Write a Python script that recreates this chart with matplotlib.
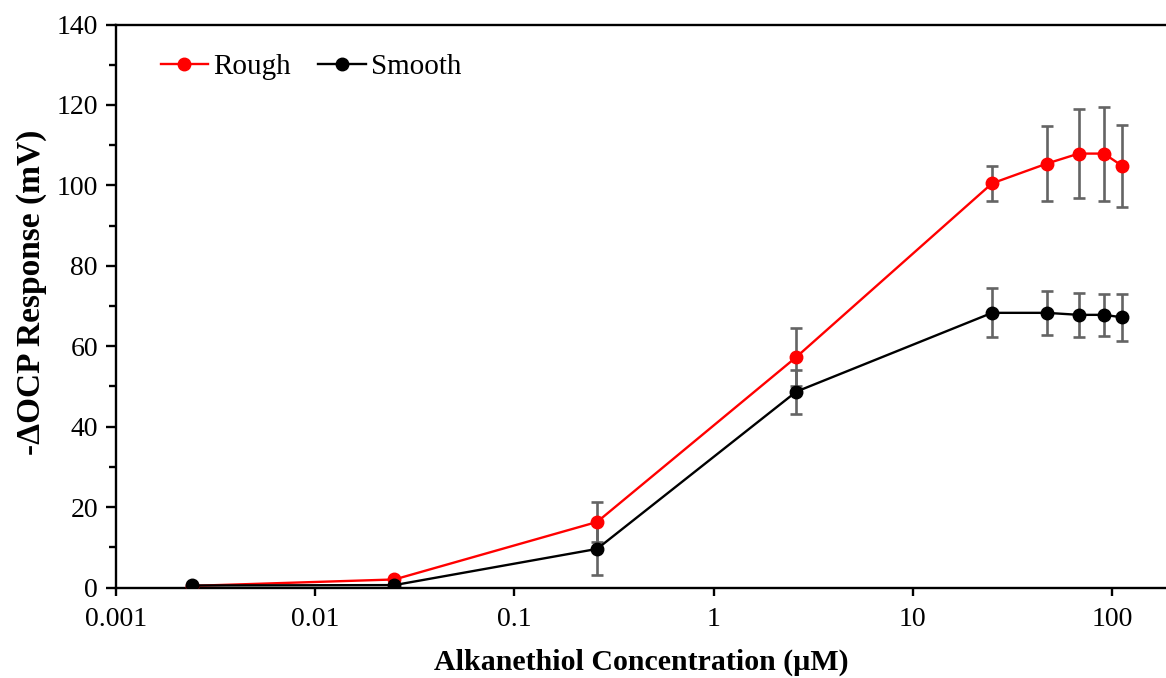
import matplotlib
matplotlib.use("Agg")
import matplotlib.pyplot as plt
from matplotlib.ticker import FixedLocator, MultipleLocator, NullLocator, FixedFormatter

# ---- data ----
concentration = [0.0024, 0.025, 0.26, 2.6, 25, 47, 68, 91, 112]
rough = [0.4, 2.0, 16.3, 57.3, 100.5, 105.4, 107.9, 107.9, 104.9]
rough_err = [0, 0, 5.0, 7.3, 4.4, 9.3, 11.0, 11.7, 10.2]
smooth = [0.5, 0.6, 9.6, 48.7, 68.3, 68.3, 67.8, 67.8, 67.2]
smooth_err = [0, 0, 6.5, 5.5, 6.1, 5.5, 5.5, 5.2, 5.8]
x_ticks = [0.001, 0.01, 0.1, 1, 10, 100]
x_tick_labels = ["0.001", "0.01", "0.1", "1", "10", "100"]

plt.rcParams['font.family'] = ['Liberation Serif', 'DejaVu Serif']

fig = plt.figure(figsize=(11.66, 6.78), dpi=100)
ax = fig.add_axes([116/1166, 1 - 587.5/678, 1 - 116/1166, (587.5 - 24.5)/678])

err_color = '#646464'
ax.errorbar(concentration, rough, yerr=rough_err, fmt='none', ecolor=err_color,
            elinewidth=1.9, capsize=4.5, capthick=1.9, zorder=1)
ax.errorbar(concentration, smooth, yerr=smooth_err, fmt='none', ecolor=err_color,
            elinewidth=1.9, capsize=4.5, capthick=1.9, zorder=1)
ax.plot(concentration, rough, color='#ff0000', lw=1.7, marker='o', ms=9,
        label='Rough', zorder=3)
ax.plot(concentration, smooth, color='black', lw=1.7, marker='o', ms=9,
        label='Smooth', zorder=4)

ax.set_xscale('log')
ax.set_xlim(0.001, 186.6)
ax.set_ylim(0, 140)
ax.xaxis.set_major_locator(FixedLocator(x_ticks))
ax.xaxis.set_major_formatter(FixedFormatter(x_tick_labels))
ax.xaxis.set_minor_locator(NullLocator())
ax.yaxis.set_major_locator(MultipleLocator(20))
ax.yaxis.set_minor_locator(MultipleLocator(10))

for s in ['left', 'bottom', 'top']:
    ax.spines[s].set_linewidth(1.7)
ax.spines['right'].set_visible(False)

ax.tick_params(axis='both', which='major', direction='out', length=6, width=1.7,
               labelsize=20, color='black')
ax.tick_params(axis='y', which='major', length=7)
ax.tick_params(axis='y', which='minor', direction='out', length=5, width=1.7)
ax.tick_params(axis='x', which='major', pad=8)
ax.tick_params(axis='y', which='major', pad=6)

ax.set_xlabel('Alkanethiol Concentration (µM)', fontsize=21.5, fontweight='bold')
ax.xaxis.set_label_coords(0.5, -0.133)
ax.xaxis.label.set_va('center')
ax.set_ylabel('-ΔOCP Response (mV)', fontsize=24, fontweight='bold')
ax.yaxis.set_label_coords(-0.08, 0.524)
ax.yaxis.label.set_va('center')

leg = ax.legend(loc='upper left', ncol=2, frameon=False, fontsize=21,
                handlelength=1.64, handletextpad=0.17, columnspacing=0.92,
                bbox_to_anchor=(0.023, 0.985), borderaxespad=0.3)

fig.savefig('out.png', dpi=100)
